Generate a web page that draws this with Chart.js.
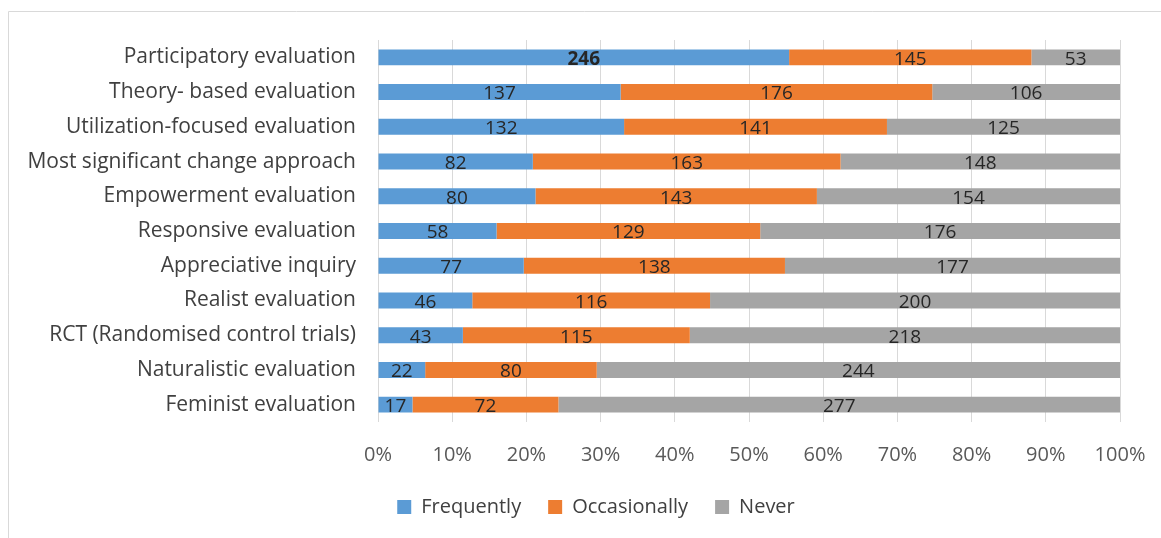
<!DOCTYPE html>
<html>
<head>
<meta charset="utf-8">
<script src="https://cdn.jsdelivr.net/npm/chart.js@4.4.0/dist/chart.umd.min.js"></script>
<style>
html,body{margin:0;padding:0;background:#fff;}
#wrap{width:1161px;height:538px;position:relative;}
</style>
</head>
<body>
<div id="wrap"><canvas id="c" width="1161" height="538"></canvas></div>
<script>
const categories = [
  "Participatory evaluation",
  "Theory- based evaluation",
  "Utilization-focused evaluation",
  "Most significant change approach",
  "Empowerment evaluation",
  "Responsive evaluation",
  "Appreciative inquiry",
  "Realist evaluation",
  "RCT (Randomised control trials)",
  "Naturalistic evaluation",
  "Feminist evaluation"
];
const frequently  = [246, 137, 132, 82, 80, 58, 77, 46, 43, 22, 17];
const occasionally = [145, 176, 141, 163, 143, 129, 138, 116, 115, 80, 72];
const never       = [53, 106, 125, 148, 154, 176, 177, 200, 218, 244, 277];
const xTicks = ["0%","10%","20%","30%","40%","50%","60%","70%","80%","90%","100%"];

const totals = categories.map((_, i) => frequently[i] + occasionally[i] + never[i]);
const pct = arr => arr.map((v, i) => v / totals[i] * 100);

const FONT = "'Open Sans', sans-serif";

const frame = {
  id: 'frame',
  afterLayout(chart) {
    const lg = chart.legend;
    if (lg) { lg.left += 31; lg.right += 31; }
  },
  beforeDraw(chart) {
    const ctx = chart.ctx;
    ctx.save();
    ctx.strokeStyle = '#d9d9d9';
    ctx.lineWidth = 1;
    ctx.beginPath();
    ctx.moveTo(8.5, 538);
    ctx.lineTo(8.5, 11.5);
    ctx.lineTo(1161, 11.5);
    ctx.stroke();
    ctx.restore();
  }
};

const labels = {
  id: 'barLabels',
  afterDatasetsDraw(chart) {
    const ctx = chart.ctx;
    ctx.save();
    ctx.letterSpacing = '0px';
    ctx.textAlign = 'center';
    ctx.textBaseline = 'middle';
    ctx.fillStyle = '#262626';
    chart.data.datasets.forEach((ds, di) => {
      const meta = chart.getDatasetMeta(di);
      meta.data.forEach((bar, i) => {
        const raw = ds.rawValues[i];
        const x = (bar.x + bar.base) / 2;
        const bold = (di === 0 && i === 0);
        ctx.font = (bold ? 'bold ' : '') + '19px ' + FONT;
        ctx.fillText(String(raw), x, bar.y + 2);
      });
    });
    ctx.restore();
  }
};

const canvas = document.getElementById('c');
const c2d = canvas.getContext('2d');
if ('letterSpacing' in c2d) c2d.letterSpacing = '0.8px';

new Chart(canvas, {
  type: 'bar',
  data: {
    labels: categories,
    datasets: [
      { label: 'Frequently', data: pct(frequently), rawValues: frequently, backgroundColor: '#5B9BD5' },
      { label: 'Occasionally', data: pct(occasionally), rawValues: occasionally, backgroundColor: '#ED7D31' },
      { label: 'Never', data: pct(never), rawValues: never, backgroundColor: '#A5A5A5' }
    ]
  },
  options: {
    indexAxis: 'y',
    responsive: false,
    animation: false,
    devicePixelRatio: 1,
    categoryPercentage: 1,
    barPercentage: 0.46,
    layout: { padding: { left: 10, right: 41, top: 40, bottom: 11 } },
    scales: {
      x: {
        stacked: true,
        min: 0, max: 100,
        ticks: {
          stepSize: 10,
          color: '#595959',
          font: { family: FONT, size: 20 },
          padding: 6,
          callback: (v, i) => xTicks[i]
        },
        grid: { color: '#d9d9d9', drawTicks: true, tickLength: 15, tickColor: 'rgba(0,0,0,0)', lineWidth: 1 },
        border: { display: false },
        afterFit(scale) { scale.height = 48; }
      },
      y: {
        stacked: true,
        ticks: {
          color: '#404040',
          font: { family: FONT, size: 21 },
          padding: 14
        },
        grid: { display: false },
        border: { display: false },
        afterFit(scale) { scale.width = 368; }
      }
    },
    plugins: {
      legend: {
        position: 'bottom',
        labels: {
          color: '#404040',
          font: { family: FONT, size: 20 },
          boxWidth: 14, boxHeight: 14,
          padding: 27
        }
      },
      tooltip: { enabled: false }
    }
  },
  plugins: [frame, labels]
});
</script>
</body>
</html>
